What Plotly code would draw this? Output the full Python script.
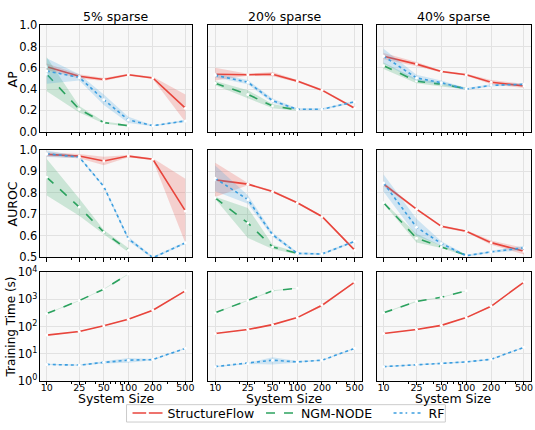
import numpy as np
import plotly.graph_objects as go
from plotly.subplots import make_subplots

# ---------------- data ----------------
SPARSITY = ["5% sparse", "20% sparse", "40% sparse"]
SIZES = [10, 25, 50, 100, 200, 500]
NGM_SIZES = [10, 25, 50, 100]
METHODS = ["StructureFlow", "NGM-NODE", "RF"]
ROW_TITLES = ["AP", "AUROC", "Training Time (s)"]
X_LABEL = "System Size"

# Average precision (mean, spread) per sparsity level
AP_SF = [[0.61, 0.52, 0.49, 0.535, 0.505, 0.22],
         [0.54, 0.535, 0.54, 0.475, 0.39, 0.22],
         [0.71, 0.635, 0.565, 0.535, 0.465, 0.43]]
AP_SF_SD = [[0.03, 0.02, 0.015, 0.01, 0.01, 0.13],
            [0.06, 0.01, 0.02, 0.01, 0.01, 0.01],
            [0.03, 0.02, 0.01, 0.01, 0.02, 0.02]]
AP_NGM = [[0.54, 0.21, 0.085, 0.055],
          [0.455, 0.35, 0.24, 0.205],
          [0.62, 0.475, 0.445, 0.405]]
AP_NGM_SD = [[0.16, 0.03, 0.01, 0.01],
             [0.02, 0.04, 0.02, 0.01],
             [0.03, 0.02, 0.02, 0.01]]
AP_RF = [[0.57, 0.51, 0.30, 0.11, 0.055, 0.10],
         [0.53, 0.465, 0.29, 0.21, 0.21, 0.28],
         [0.71, 0.505, 0.46, 0.40, 0.435, 0.445]]
AP_RF_SD = [[0.12, 0.03, 0.05, 0.03, 0.005, 0.01],
            [0.02, 0.02, 0.02, 0.01, 0.01, 0.01],
            [0.07, 0.03, 0.02, 0.01, 0.01, 0.01]]

# Area under the ROC curve
AUROC_SF = [[0.979, 0.971, 0.948, 0.971, 0.956, 0.715],
            [0.86, 0.84, 0.806, 0.753, 0.689, 0.532],
            [0.84, 0.723, 0.643, 0.62, 0.567, 0.527]]
AUROC_SF_SD = [[0.01, 0.01, 0.02, 0.005, 0.005, 0.15],
               [0.08, 0.005, 0.005, 0.005, 0.005, 0.005],
               [0.01, 0.005, 0.005, 0.005, 0.01, 0.015]]
AUROC_NGM = [[0.872, 0.733, 0.616, 0.532],
             [0.776, 0.659, 0.547, 0.517],
             [0.753, 0.588, 0.547, 0.509]]
AUROC_NGM_SD = [[0.085, 0.04, 0.01, 0.01],
                [0.005, 0.07, 0.01, 0.005],
                [0.005, 0.02, 0.005, 0.005]]
AUROC_RF = [[0.982, 0.966, 0.829, 0.585, 0.497, 0.566],
            [0.867, 0.768, 0.604, 0.517, 0.514, 0.573],
            [0.845, 0.639, 0.563, 0.506, 0.524, 0.543]]
AUROC_RF_SD = [[0.015, 0.005, 0.005, 0.01, 0.005, 0.005],
               [0.06, 0.02, 0.01, 0.005, 0.005, 0.005],
               [0.04, 0.04, 0.01, 0.005, 0.005, 0.01]]

# Training time in seconds (relative spread)
TIME_SF = [[48, 65, 107, 186, 400, 2090],
           [55, 77, 117, 213, 607, 4400],
           [55, 77, 110, 213, 560, 4400]]
TIME_SF_REL = [[0.03, 0.03, 0.03, 0.03, 0.04, 0.04],
               [0.03, 0.03, 0.03, 0.04, 0.12, 0.04],
               [0.03, 0.03, 0.03, 0.04, 0.06, 0.04]]
TIME_NGM = [[300, 910, 2400, 8700],
            [320, 920, 2100, 2600],
            [320, 850, 1200, 2100]]
TIME_NGM_REL = [[0.03, 0.03, 0.03, 0.03],
                [0.03, 0.03, 0.05, 0.03],
                [0.03, 0.05, 0.03, 0.03]]
TIME_RF = [[3.95, 3.7, 4.7, 5.65, 5.97, 15.6],
           [3.26, 4.3, 5.65, 4.9, 5.65, 15.6],
           [3.26, 3.95, 4.3, 4.9, 6.1, 17.0]]
TIME_RF_REL = [[0.05, 0.05, 0.1, 0.2, 0.05, 0.05],
               [0.05, 0.05, 0.3, 0.08, 0.05, 0.05],
               [0.05, 0.05, 0.05, 0.05, 0.05, 0.05]]

X_TICKS = [10, 25, 50, 100, 200, 500]
X_MINOR = [20, 30, 40, 60, 70, 80, 90, 300, 400]

COLORS = {"StructureFlow": "#e8453c", "NGM-NODE": "#2ca25f", "RF": "#3c9ee0"}
FILLS = {"StructureFlow": "rgba(232,69,60,0.22)",
         "NGM-NODE": "rgba(44,162,95,0.22)",
         "RF": "rgba(60,158,224,0.22)"}
DASHES = {"StructureFlow": "solid", "NGM-NODE": "dash", "RF": "dot"}

FONT = "DejaVu Sans"
W, H = 535, 430

# panel pixel boxes
COL_PX = [(40, 193), (209, 363), (378, 533)]
ROW_PX = [(18, 128), (147, 258), (274, 386)]
# legend entries (left pixel) and frame
LEGEND_X = [128, 262, 390]
LEGEND_BOX = (127, 411, 447, 429)

fig = make_subplots(rows=3, cols=3)


def add_series(row, col, name, xs, mean, lo, hi, legend_id):
    color = COLORS[name]
    fig.add_trace(go.Scatter(x=xs, y=hi, mode="lines", line=dict(width=0),
                             showlegend=False, hoverinfo="skip"),
                  row=row, col=col)
    fig.add_trace(go.Scatter(x=xs, y=lo, mode="lines", line=dict(width=0),
                             fill="tonexty", fillcolor=FILLS[name],
                             showlegend=False, hoverinfo="skip"),
                  row=row, col=col)
    fig.add_trace(go.Scatter(x=xs, y=mean, mode="lines+markers", name=name,
                             line=dict(color=color, width=1.6, dash=DASHES[name]),
                             marker=dict(color="white", size=3),
                             showlegend=legend_id is not None,
                             legend=legend_id or "legend"),
                  row=row, col=col)


LEG_IDS = {"StructureFlow": "legend", "NGM-NODE": "legend2", "RF": "legend3"}

for c in range(3):
    first = c == 0
    # AP row
    for name, xs, m, s in [("StructureFlow", SIZES, AP_SF[c], AP_SF_SD[c]),
                           ("NGM-NODE", NGM_SIZES, AP_NGM[c], AP_NGM_SD[c]),
                           ("RF", SIZES, AP_RF[c], AP_RF_SD[c])]:
        m, s = np.array(m), np.array(s)
        add_series(1, c + 1, name, xs, m, m - s, m + s, LEG_IDS[name] if first else None)
    # AUROC row
    for name, xs, m, s in [("StructureFlow", SIZES, AUROC_SF[c], AUROC_SF_SD[c]),
                           ("NGM-NODE", NGM_SIZES, AUROC_NGM[c], AUROC_NGM_SD[c]),
                           ("RF", SIZES, AUROC_RF[c], AUROC_RF_SD[c])]:
        m, s = np.array(m), np.array(s)
        add_series(2, c + 1, name, xs, m, m - s, m + s, None)
    # training time row
    for name, xs, m, r in [("StructureFlow", SIZES, TIME_SF[c], TIME_SF_REL[c]),
                           ("NGM-NODE", NGM_SIZES, TIME_NGM[c], TIME_NGM_REL[c]),
                           ("RF", SIZES, TIME_RF[c], TIME_RF_REL[c])]:
        m, r = np.array(m, dtype=float), np.array(r)
        add_series(3, c + 1, name, xs, m, m * (1 - r), m * (1 + r), None)

axis_common = dict(showline=True, linecolor="black", linewidth=1.2, mirror=True,
                   showgrid=True, gridcolor="#e2e2e2", gridwidth=1, zeroline=False)

for r in range(3):
    for c in range(3):
        idx = r * 3 + c + 1
        xa = "xaxis" if idx == 1 else f"xaxis{idx}"
        ya = "yaxis" if idx == 1 else f"yaxis{idx}"
        x0, x1 = COL_PX[c]
        y0, y1 = ROW_PX[r]
        xd = dict(axis_common)
        xd.update(type="log", range=[np.log10(10) - 0.085, np.log10(500) + 0.085],
                  domain=[x0 / W, x1 / W], tickvals=X_TICKS,
                  ticktext=[str(v) for v in X_TICKS], showticklabels=(r == 2),
                  ticks="outside", ticklen=3.5, tickwidth=1, tickcolor="black",
                  ticklabelstandoff=-6,
                  tickfont=dict(family=FONT, size=9.5, color="black"),
                  minor=dict(tickvals=X_MINOR, ticks="outside", ticklen=2,
                             tickcolor="black", showgrid=False))
        yd = dict(axis_common)
        yd.update(domain=[1 - y1 / H, 1 - y0 / H], ticks="", ticklabelstandoff=-1,
                  showticklabels=(c == 0),
                  tickfont=dict(family=FONT, size=11.5, color="black"))
        if r == 0:
            yd.update(range=[0, 1.0], tickvals=[0, 0.2, 0.4, 0.6, 0.8, 1.0],
                      ticktext=["0.0", "0.2", "0.4", "0.6", "0.8", "1.0"])
        elif r == 1:
            yd.update(range=[0.5, 1.0], tickvals=[0.5, 0.6, 0.7, 0.8, 0.9, 1.0],
                      ticktext=["0.5", "0.6", "0.7", "0.8", "0.9", "1.0"])
        else:
            yd.update(type="log", range=[0, 4], tickvals=[1, 10, 100, 1000, 10000],
                      ticktext=[f"10<sup>{k}</sup>" for k in range(5)])
        fig.layout[xa].update(xd)
        fig.layout[ya].update(yd)

# column titles and x-axis titles
for c, title in enumerate(SPARSITY):
    x0, x1 = COL_PX[c]
    fig.add_annotation(text=title, x=(x0 + x1) / 2 / W, y=1 - 9 / H,
                       xref="paper", yref="paper", xanchor="center", yanchor="middle",
                       showarrow=False, font=dict(family=FONT, size=12.5, color="black"))
    fig.add_annotation(text=X_LABEL, x=(x0 + x1) / 2 / W, y=1 - 405 / H,
                       xref="paper", yref="paper", xanchor="center", yanchor="middle",
                       borderpad=0,
                       showarrow=False, font=dict(family=FONT, size=12.5, color="black"))

# row (y-axis) titles
for r, title in enumerate(ROW_TITLES):
    y0, y1 = ROW_PX[r]
    fig.add_annotation(text=title, x=12 / W, y=1 - (y0 + y1) / 2 / H,
                       xref="paper", yref="paper", xanchor="center", yanchor="middle",
                       textangle=-90, showarrow=False,
                       font=dict(family=FONT, size=12.5 if r < 2 else 12, color="black"))

# legend frame
bx0, by0, bx1, by1 = LEGEND_BOX
fig.add_shape(type="rect", xref="paper", yref="paper",
              x0=bx0 / W, x1=bx1 / W, y0=1 - by1 / H, y1=1 - by0 / H,
              line=dict(color="#cccccc", width=1), fillcolor="white", layer="above")

legend_style = dict(orientation="h", yanchor="middle", y=1 - (by0 + by1) / 2 / H,
                    xanchor="left", bgcolor="rgba(0,0,0,0)", borderwidth=0,
                    font=dict(family=FONT, size=12.5, color="black"), itemwidth=30)

fig.update_layout(
    width=W, height=H,
    margin=dict(l=0, r=0, t=0, b=0),
    paper_bgcolor="white", plot_bgcolor="#f8f8f8",
    font=dict(family=FONT, color="black"),
    legend=dict(legend_style, x=LEGEND_X[0] / W),
    legend2=dict(legend_style, x=LEGEND_X[1] / W),
    legend3=dict(legend_style, x=LEGEND_X[2] / W),
)

fig.write_html("out.html")
